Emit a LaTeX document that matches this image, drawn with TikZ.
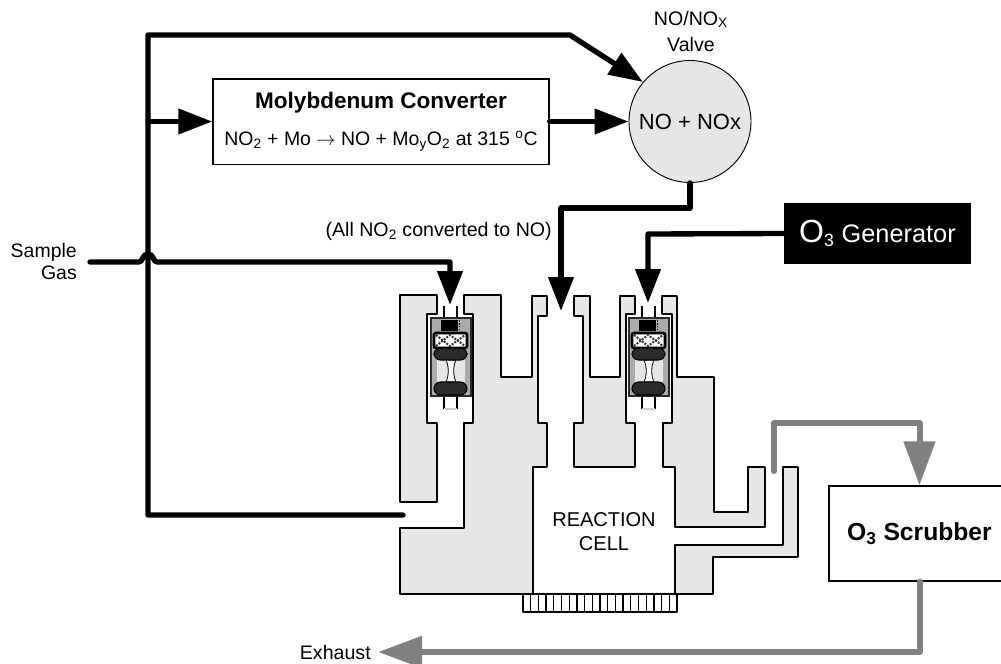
\documentclass[tikz,border=0pt]{standalone}
\usepackage{fontspec}
\setmainfont{Liberation Sans}
\usetikzlibrary{arrows.meta}
\definecolor{cellgray}{HTML}{E6E6E6}
\definecolor{flowgray}{HTML}{808080}
\definecolor{valvegray}{HTML}{ABABAB}
\definecolor{pilldark}{HTML}{2B2B2B}
\newcommand{\fsize}[1]{\fontsize{#1}{19.5}\selectfont}
\tikzset{
    housing/.style={draw=black, line width=2.1pt, fill=cellgray, line join=round},
    feedline/.style={draw=black, line width=4pt, line join=round, line cap=round},
    feedtip/.style={-{Triangle[length=25.5pt,width=18.5pt]}},
    flowline/.style={draw=flowgray, line width=4.5pt, line join=round, line cap=round},
    flowtip/.style={-{Triangle[length=33pt,width=23pt,color=flowgray]}},
    plainbox/.style={draw=black, line width=1pt, fill=white, inner sep=0pt},
    label/.style={inner sep=0pt, font=\fsize{14.7}, align=center},
}
\begin{document}
\begin{tikzpicture}[x=0.75pt,y=-0.75pt]
    \useasboundingbox (0,0) rectangle (1001,664);
    % Reaction cell housing
    \draw[housing] (400,295) -- (437,295) -- (437,314) -- (427,314) -- (427,423) -- (437,423) -- (437,502) -- (400,502) -- cycle;
    \draw[housing] (464,295) -- (501,295) -- (501,377) -- (532,377) -- (532,296) -- (547,296) -- (547,316) -- (538,316) -- (538,423) -- (547,423) -- (547,467) -- (533,467) -- (533,594) -- (400,594) -- (400,528) -- (464,528) -- (464,423) -- (473,423) -- (473,314) -- (464,314) -- cycle;
    \draw[housing] (574,296) -- (590,296) -- (590,377) -- (620,377) -- (620,296) -- (635,296) -- (635,314) -- (626,314) -- (626,423) -- (635,423) -- (635,467) -- (574,467) -- (574,423) -- (583,423) -- (583,316) -- (574,316) -- cycle;
    \draw[housing] (662,296) -- (677,296) -- (677,377) -- (714,377) -- (714,512) -- (748,512) -- (748,467) -- (765,467) -- (765,527) -- (675,527) -- (675,467) -- (663,467) -- (663,423) -- (672,423) -- (672,314) -- (662,314) -- cycle;
    \draw[housing] (675,594) -- (675,545) -- (783,545) -- (783,467) -- (798,467) -- (798,557) -- (713,557) -- (713,594) -- cycle;
    % Cell connector
    \draw[black, line width=2.1pt, fill=white, line join=round] (523,594) rectangle (677,612);
    \foreach \tx in {1,...,19}
        \draw[black, line width=1pt] ({523+7.7*\tx},594) -- ({523+7.7*\tx},612);
    % Flow valves
    \foreach \vx in {0,198} {
        \begin{scope}[shift={(\vx,0)}]
            \draw[black, line width=0.8pt] (444,306) -- (444,318);
            \draw[black, line width=0.8pt] (457,306) -- (457,318);
            \draw[black, line width=0.8pt] (444,396) -- (444,409);
            \draw[black, line width=0.8pt] (457,396) -- (457,409);
            \draw[valvegray!60, line width=0.8pt] (444,409) -- (457,409);
            \draw[pilldark, line width=1pt, fill=valvegray] (431,318) rectangle (471,396);
            \fill[black] (441,320) rectangle (458,331);
            \draw[black, line width=1.2pt, densely dotted] (459.5,320) -- (459.5,331);
            \draw[black, line width=2pt, fill=white, rounded corners=1.5pt] (434,333) rectangle (467,348);
            \draw[black!80, line width=1.5pt, densely dotted] (436,335) -- (450,346) -- (465,335);
            \draw[black!80, line width=1.5pt, densely dotted] (436,346) -- (450,335) -- (465,346);
            \fill[cellgray] (437,360) rectangle (465,382);
            \draw[black, line width=0.6pt, fill=white] (446,360) .. controls (449,366) and (449,376) .. (446,382) -- (456,382) .. controls (453,376) and (453,366) .. (456,360) -- cycle;
            \draw[black, line width=0.8pt, fill=pilldark, rounded corners=5pt] (434,348) rectangle (467,360);
            \draw[black, line width=0.8pt, fill=pilldark, rounded corners=5pt] (434,382) rectangle (467,395);
        \end{scope}
    }
    % Boxes
    \node[plainbox, minimum width=252pt, minimum height=64pt, font=\fontsize{14.6}{27.75}\selectfont, align=center] (converter) at (381,121.5)
        {{\fontsize{16.9}{27.75}\selectfont\bfseries Molybdenum Converter}\\NO\textsubscript{2} + Mo $\rightarrow$ NO + Mo\textsubscript{y}O\textsubscript{2} at 315 \textsuperscript{o}C};
    \node[draw=black, line width=0.7pt, fill=cellgray, circle, minimum size=91.5pt, inner sep=0pt, font=\fsize{16.5}] (valve) at (690,121.5) {NO + NOx};
    \node[fill=black, text=white, minimum width=140pt, minimum height=46pt, inner sep=0pt, font=\fsize{19}] (generator) at (877.5,233.5) {{\fsize{24}O}\textsubscript{3} Generator};
    \node[plainbox, line width=1.3pt, minimum width=136pt, minimum height=71pt, font=\fsize{18.5}\bfseries] (scrubber) at (919.5,533.5) {O\textsubscript{3} Scrubber};
    % Labels
    \node[label] (valvelabel) at (691,31) {NO/NO\textsubscript{X}\\Valve};
    \node[inner sep=0pt, font=\fontsize{14.6}{16.5}\selectfont, align=right, anchor=east] (samplelabel) at (77,262) {Sample\\Gas};
    \node[label, anchor=east] (notelabel) at (552,231) {(All NO\textsubscript{2} converted to NO)};
    \node[inner sep=0pt, font=\fontsize{15}{18}\selectfont, align=center] (celllabel) at (604,532) {REACTION\\CELL};
    \node[label, anchor=east] (exhaustlabel) at (371,652) {Exhaust};
    % Free ends of the lines
    \coordinate (samplein) at (90,262);
    \coordinate (trunktop) at (148,35);
    \coordinate (trunkbot) at (148,515);
    \coordinate (branch) at (148,121.5);
    \coordinate (cellout) at (403,515);
    \coordinate (leftvalve) at (450,305);
    \coordinate (cellin) at (561,311);
    \coordinate (rightvalve) at (648,303);
    \coordinate (drain) at (774,471);
    \coordinate (exhaustout) at (378,652);
    % Sample and bypass lines
    \draw[feedline, feedtip] (cellout) -- (trunkbot) -- (trunktop) -- (570,35) -- (valve.140);
    \draw[feedline, feedtip] (branch) -- (converter.west);
    \draw[feedline, feedtip] (converter.east) -- (valve.west);
    \draw[feedline, feedtip] (samplein) -- (139,262) .. controls (143,262) and (142,254) .. (148,254) .. controls (154,254) and (153,262) .. (157,262) -- (450,262) -- (leftvalve);
    \draw[feedline, feedtip] (valve.south) -- (690,208) -- (561,208) -- (cellin);
    \draw[feedline, feedtip] (generator.west) -- (648,234) -- (rightvalve);
    % Ozone path
    \draw[flowline, flowtip] (drain) -- (774,423) -- (919.5,423) -- (scrubber.north);
    \draw[flowline, flowtip] (scrubber.south) -- (919.5,652) -- (exhaustout);
\end{tikzpicture}
\end{document}
